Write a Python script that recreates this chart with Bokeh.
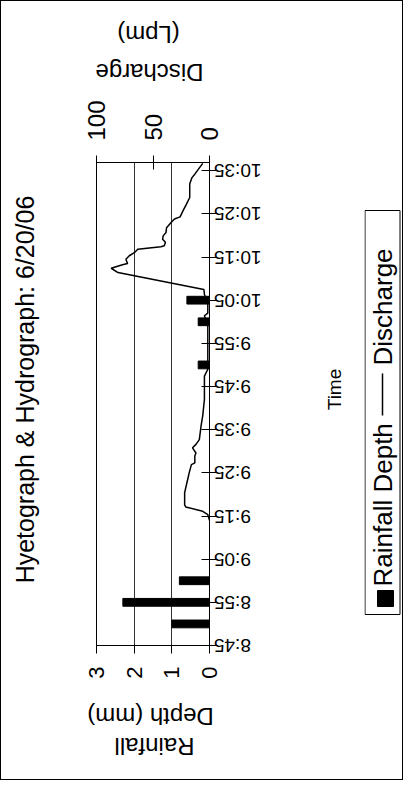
import math
from bokeh.plotting import figure
from bokeh.layouts import row, column
from bokeh.models import Range1d, LinearAxis, FixedTicker, ColumnDataSource, Grid
from bokeh.core.properties import value
from bokeh.embed import file_html
from bokeh.resources import INLINE

# ---------------- data ----------------
TITLE = "Hyetograph & Hydrograph: 6/20/06"
X_TITLE = ["Rainfall", "Depth (mm)"]
X2_TITLE = ["Discharge", "(Lpm)"]
Y_TITLE = "Time"
LEGEND = ["Rainfall Depth", "Discharge"]

time_ticks = ["8:45", "8:55", "9:05", "9:15", "9:25", "9:35", "9:45",
              "9:55", "10:05", "10:15", "10:25", "10:35"]
rain_ticks = [0, 1, 2, 3]
discharge_ticks = [0, 50, 100]

rain_time = ["8:50", "8:55", "9:00", "9:50", "10:00", "10:05"]
rain_depth = [1.0, 2.3, 0.8, 0.3, 0.3, 0.6]

q_time = ["9:14:00", "9:15:18", "9:16:06", "9:17:06", "9:17:36", "9:20:24",
          "9:22:42", "9:23:48", "9:25:00", "9:26:54", "9:27:18", "9:28:54",
          "9:29:36", "9:30:48", "9:31:36", "9:32:42", "9:35:48", "9:38:12",
          "9:42:00", "9:47:24", "9:49:00", "9:59:00", "10:01:24", "10:02:00",
          "10:04:00", "10:06:24", "10:07:30", "10:11:24", "10:12:24", "10:13:12",
          "10:13:30", "10:14:30", "10:15:18", "10:16:00", "10:16:48", "10:17:24",
          "10:17:36", "10:18:24", "10:19:06", "10:19:54", "10:20:42", "10:21:48",
          "10:23:00", "10:23:48", "10:24:18", "10:25:42", "10:27:12", "10:28:48",
          "10:31:54", "10:33:24", "10:34:12", "10:36:42"]
q_lpm = [0, 1.5, 6, 21, 22, 22,
         20, 19, 18, 16, 13, 13,
         12, 15, 12, 9, 7.5, 6,
         4.5, 4.5, 1.5, 1.5, 4.5, 1.5,
         1.5, 4.5, 5, 81, 87, 77,
         72.5, 74, 71, 66.5, 63.5, 43,
         40, 39, 41.5, 41, 38.5, 38,
         34, 31, 26, 23.5, 20.5, 17.5,
         17.5, 15.5, 13, 6]


def to_min(s):
    parts = [int(v) for v in s.split(":")]
    sec = parts[2] if len(parts) > 2 else 0
    return parts[0] * 60 + parts[1] + sec / 60.0


def tick_min(s):
    h, m = s.split(":")
    return int(h) * 60 + int(m)


FONT = "Liberation Sans"
# page geometry (page pixels, the layout starts at 9,9 inside a 1px border)
X0, Y0 = 9, 9
W = 401
TOP_H, MID_H, BOT_H = 96, 594, 88
W_TITLE, W_MAIN, W_TIME, W_LEG = 60, 253, 50, 38
B_TOP, B_BOT = 65, 46          # borders shared by every plot in the middle row
MID_Y0 = Y0 + TOP_H


def blank(width, height, x0, y0, top=0, bottom=0):
    """A bare canvas whose data coordinates are page pixels (y downwards)."""
    f = figure(width=width, height=height,
               min_border_left=0, min_border_right=0,
               min_border_top=top, min_border_bottom=bottom,
               x_range=Range1d(x0, x0 + width),
               y_range=Range1d(y0 + height - bottom, y0 + top),
               x_axis_location=None, y_axis_location=None,
               toolbar_location=None, output_backend="svg")
    f.grid.visible = False
    f.outline_line_color = None
    f.background_fill_color = "white"
    f.border_fill_color = "white"
    return f


def canvas_text(f, xs, ys, texts, angle, size, align="center"):
    f.text(x=xs, y=ys, text=texts, angle=angle, text_font=value(FONT),
           text_font_size=size, text_color="black",
           text_align=align, text_baseline="middle")


# ---------------- main chart ----------------
rain_src = ColumnDataSource(dict(t=[to_min(s) for s in rain_time], depth=rain_depth))
q_src = ColumnDataSource(dict(t=[to_min(s) for s in q_time], q=q_lpm))

p = figure(width=W_MAIN, height=MID_H,
           min_border_left=35, min_border_right=105,
           min_border_top=B_TOP, min_border_bottom=B_BOT,
           x_range=Range1d(3, 0), y_range=Range1d(525, 636.9),
           x_axis_location=None, y_axis_location=None,
           toolbar_location=None, output_backend="svg")
p.grid.visible = False
p.extra_x_ranges = {"q": Range1d(100, 0)}
p.outline_line_color = "black"
p.outline_line_width = 1
p.background_fill_color = "white"
p.border_fill_color = "white"


def style_axis(ax, size):
    ax.axis_line_color = "black"
    ax.axis_line_width = 1
    ax.major_tick_line_color = "black"
    ax.minor_tick_line_color = None
    ax.major_label_text_font = FONT
    ax.major_label_text_font_size = size
    ax.major_label_text_color = "black"


rain_axis = LinearAxis(ticker=FixedTicker(ticks=rain_ticks))
style_axis(rain_axis, "22px")
rain_axis.major_tick_in = 0
rain_axis.major_tick_out = 8
rain_axis.major_label_standoff = 13
rain_axis.major_label_orientation = math.pi / 2
p.add_layout(rain_axis, "below")

q_axis = LinearAxis(x_range_name="q", ticker=FixedTicker(ticks=discharge_ticks))
style_axis(q_axis, "24px")
q_axis.major_tick_in = 7
q_axis.major_tick_out = 7
q_axis.major_label_standoff = 15
q_axis.major_label_orientation = math.pi / 2
p.add_layout(q_axis, "above")

# upside-down time labels: pad to equal width so that they line up at the axis
tvals = [tick_min(s) for s in time_ticks]
wmax = max(len(s) for s in time_ticks)
time_axis = LinearAxis(
    ticker=FixedTicker(ticks=tvals),
    major_label_overrides={v: "\u2007" * (wmax - len(s)) + s for v, s in zip(tvals, time_ticks)})
style_axis(time_axis, "19px")
time_axis.major_tick_in = 8
time_axis.major_tick_out = 8
time_axis.major_label_standoff = 44
time_axis.major_label_orientation = math.pi
p.add_layout(time_axis, "right")

p.add_layout(Grid(dimension=0, ticker=FixedTicker(ticks=rain_ticks),
                  grid_line_color="#333333", grid_line_width=1))

p.hbar(y="t", left=0, right="depth", height=1.8, source=rain_src,
       fill_color="black", line_color="black")
p.line(x="q", y="t", source=q_src, x_range_name="q",
       line_color="black", line_width=1.5)

# ---------------- text strips around the chart ----------------
top = blank(W, TOP_H, X0, Y0)
canvas_text(top, [157, 156], [80, 42], X2_TITLE, math.pi, "24px")

bottom = blank(W, BOT_H, X0, MID_Y0 + MID_H)
canvas_text(bottom, [162, 158], [754, 724], X_TITLE, math.pi, "24px")

x_t = X0
tfig = blank(W_TITLE, MID_H, x_t, MID_Y0, B_TOP, B_BOT)
canvas_text(tfig, [32], [397], [TITLE], math.pi / 2, "25px")

x_time = X0 + W_TITLE + W_MAIN
timefig = blank(W_TIME, MID_H, x_time, MID_Y0, B_TOP, B_BOT)
canvas_text(timefig, [342], [397], [Y_TITLE], math.pi / 2, "19px")

# legend box
x_leg = x_time + W_TIME
leg = blank(W_LEG, MID_H, x_leg, MID_Y0, B_TOP, B_BOT)
leg.quad(left=[372.5], right=[407.5], top=[218], bottom=[622],
         fill_color=None, line_color="black", line_width=1)
leg.quad(left=[385], right=[401], top=[598], bottom=[614],
         fill_color="black", line_color="black")
canvas_text(leg, [390, 390], [594, 373], LEGEND, math.pi / 2, "26px", align="left")
leg.line(x=[390, 390], y=[423, 381], line_color="black", line_width=1.5)

layout = column(top, row(tfig, p, timefig, leg, spacing=0), bottom, spacing=0)
layout.styles = {"border": "1px solid black"}

open("out.html", "w").write(file_html(layout, INLINE))
